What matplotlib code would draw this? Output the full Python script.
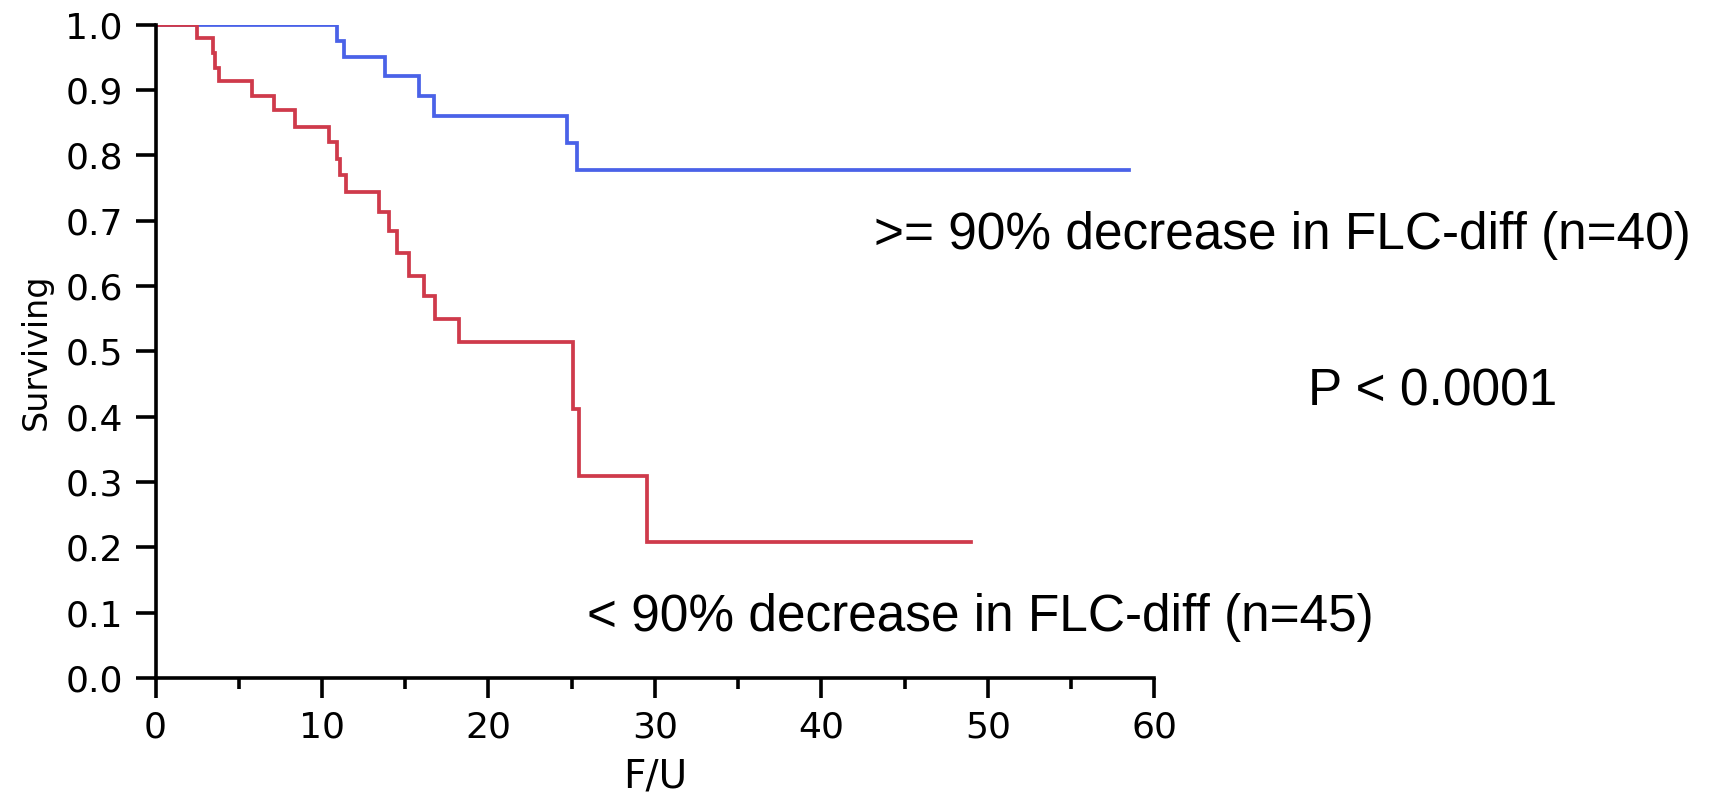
import matplotlib.pyplot as plt
from matplotlib.ticker import MultipleLocator

# Kaplan-Meier step points (time, survival after drop)
blue_t = [0, 10.9, 11.3, 13.8, 15.8, 16.7, 24.7, 25.3, 58.5]
blue_s = [1.0, 0.975, 0.950, 0.921, 0.891, 0.860, 0.819, 0.777, 0.777]

red_t = [0, 2.5, 3.45, 3.6, 3.8, 5.8, 7.1, 8.4, 10.45, 10.9, 11.1, 11.45,
         13.4, 14.0, 14.5, 15.2, 16.1, 16.8, 18.25, 25.1, 25.45, 29.5, 49.0]
red_s = [1.0, 0.979, 0.956, 0.933, 0.914, 0.891, 0.869, 0.844, 0.820, 0.795,
         0.770, 0.744, 0.714, 0.684, 0.651, 0.616, 0.584, 0.550, 0.514, 0.412,
         0.310, 0.208, 0.208]

xticks = [0, 10, 20, 30, 40, 50, 60]
yticks = [i / 10 for i in range(11)]

fig = plt.figure(figsize=(17.28, 7.94), dpi=100)
ax = fig.add_axes([0.090, 0.146, 0.578, 0.823])

ax.step(blue_t, blue_s, where="post", c="#4A62E8", lw=2.7, solid_joinstyle="miter")
ax.step(red_t, red_s, where="post", c="#CF3A4B", lw=2.7, solid_joinstyle="miter")

ax.set_xlim(0, 60)
ax.set_ylim(0, 1.0)
ax.set_xticks(xticks)
ax.set_yticks(yticks)
ax.set_yticklabels([f"{v:.1f}" for v in yticks])
ax.xaxis.set_minor_locator(MultipleLocator(5))

for s in ["top", "right"]:
    ax.spines[s].set_visible(False)
for s in ["left", "bottom"]:
    ax.spines[s].set_linewidth(2.6)

ax.tick_params(which="major", length=14.5, width=2.6, direction="out", labelsize=26)
ax.tick_params(axis="y", pad=9)
ax.tick_params(axis="x", pad=9)
ax.tick_params(which="minor", length=8, width=2.6, direction="out")

ax.set_ylabel("Surviving", fontsize=24)
ax.yaxis.set_label_coords(-0.103, 0.5)
ax.set_xlabel("F/U", fontsize=28)
ax.xaxis.set_label_coords(0.5, -0.122)

tf = dict(family="Liberation Sans", fontsize=37, color="black")
fig.text(874 / 1728, 1 - 236 / 794, ">= 90% decrease in FLC-diff (n=40)", va="center", ha="left", **tf)
fig.text(1308 / 1728, 1 - 392 / 794, "P < 0.0001", va="center", ha="left", **tf)
fig.text(587 / 1728, 1 - 618 / 794, "< 90% decrease in FLC-diff (n=45)", va="center", ha="left", **tf)

fig.savefig("out.png", dpi=100)
